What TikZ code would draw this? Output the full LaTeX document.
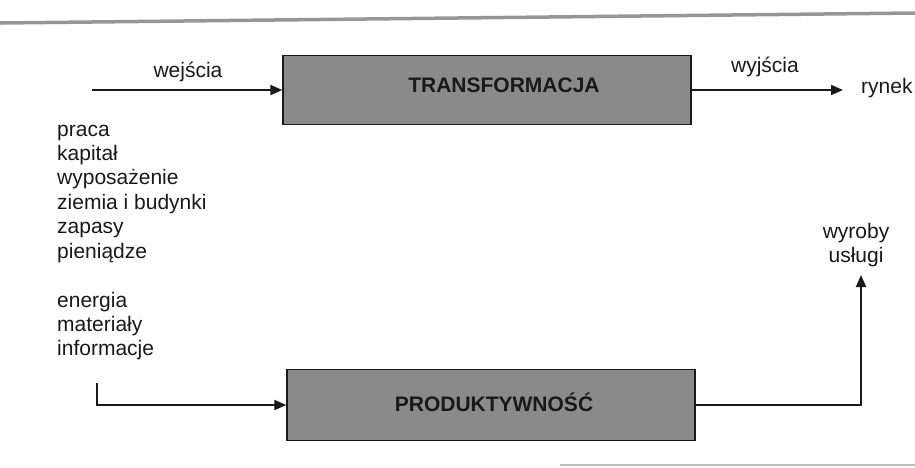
\documentclass[tikz,border=0pt]{standalone}
\usepackage{fontspec}
\setmainfont{Liberation Sans}
\usetikzlibrary{arrows.meta}
\definecolor{boxgray}{RGB}{138,138,138}
\definecolor{rulegray}{RGB}{150,150,150}
\definecolor{ink}{RGB}{25,25,25}
\begin{document}
\begin{tikzpicture}[x=1pt,y=-1pt,
  every node/.style={inner sep=0pt, text=ink, font=\fontsize{21}{24}\selectfont},
  box/.style={draw=ink, line width=1.4pt, fill=boxgray},
  boxtext/.style={anchor=base, font=\fontsize{21}{24}\selectfont\bfseries},
  lbl/.style={anchor=base},
  item/.style={anchor=base west},
  arr/.style={draw=ink, line width=2pt, -{Triangle[length=12pt,width=10pt]}},
  conn/.style={draw=ink, line width=2pt},
]
\useasboundingbox (0,0) rectangle (915,467);
% scan rules
\draw[rulegray, line width=3.5pt] (0,23) -- (915,13);
\draw[black!25, line width=2pt] (560,465) -- (915,465);

% boxes
\node[box, minimum width=408pt, minimum height=69pt] (trans) at (487,90) {};
\node[boxtext] (transtext) at (504,92) {TRANSFORMACJA};
\node[box, minimum width=408pt, minimum height=71pt] (prod) at (491,405) {};
\node[boxtext] (prodtext) at (494,411) {PRODUKTYWNOŚĆ};

% labels
\node[lbl] (wej) at (188,77) {wejścia};
\node[lbl] (wyj) at (765,72) {wyjścia};
\node[item] (rynek) at (861,93) {rynek};
\node[lbl] (wyroby) at (856,238) {wyroby};
\node[lbl] (uslugi) at (856,262) {usługi};

% input list
\foreach \t/\n [count=\i from 0] in {praca/l1,kapitał/l2,wyposażenie/l3,ziemia i budynki/l4,zapasy/l5,pieniądze/l6}
  \node[item] (\n) at (57,136+24.4*\i) {\t};
\foreach \t/\n [count=\i from 0] in {energia/m1,materiały/m2,informacje/m3}
  \node[item] (\n) at (57,307+24.4*\i) {\t};

% connectors
\coordinate (in1) at (92,90);
\coordinate (out1) at (843,90);
\coordinate (in2) at (97,383);
\coordinate (in2b) at (97,405);
\coordinate (up) at (861,275);

\draw[arr] (in1) -- (trans.west);
\draw[arr] (trans.east) -- (out1);
\draw[arr] (in2) -- (in2b) -- (prod.west);
\draw[arr] (prod.east) -| (up);
\end{tikzpicture}
\end{document}
